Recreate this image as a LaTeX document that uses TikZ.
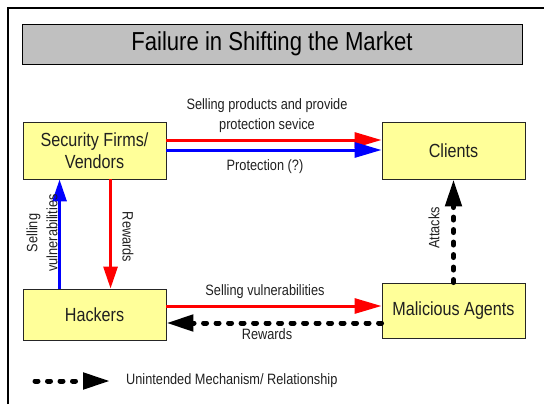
\documentclass[tikz,border=0pt]{standalone}
\usepackage{fontspec}
\setmainfont{Liberation Sans}[FakeStretch=0.85]
\usetikzlibrary{arrows.meta}
\definecolor{boxyellow}{HTML}{FFFF99}
\definecolor{titlegray}{HTML}{C0C0C0}
\definecolor{txt}{HTML}{202020}
\begin{document}
\begin{tikzpicture}[x=1pt,y=-1pt,
  entity/.style={draw=black!85, line width=0.9pt, fill=boxyellow, minimum width=143pt, inner sep=0pt, align=center, font=\fontsize{19}{22}\selectfont, text=txt},
  lbl/.style={font=\fontsize{15}{20}\selectfont, text=txt, inner sep=0pt, align=center},
  redarr/.style={draw=red, line width=3pt, -{Triangle[length=27pt,width=15pt]}},
  bluearr/.style={draw=blue, line width=3pt, -{Triangle[length=27pt,width=15pt]}},
  redv/.style={draw=red, line width=3pt, -{Triangle[length=22pt,width=14pt]}},
  bluev/.style={draw=blue, line width=3pt, -{Triangle[length=22pt,width=14pt]}},
  unint/.style={draw=black, line width=5pt, line cap=round, dash pattern=on 3pt off 9.5pt, -{Triangle[length=27pt,width=16pt]}}
]
\useasboundingbox (0,0) rectangle (544,407);
\draw[line width=1.2pt, black] (8,404) -- (8,8) -- (544,8);
\node[draw=black, line width=0.9pt, fill=titlegray, minimum width=500pt, minimum height=40pt, inner sep=0pt, font=\fontsize{26}{30}\selectfont] (title) at (272,44) {Failure in Shifting the Market};

\node[entity, minimum height=57pt] (sf) at (94.5,150.5) {Security Firms/\\Vendors};
\node[entity, minimum height=57pt] (cl) at (453.5,150.5) {Clients};
\node[entity, minimum height=51pt] (hk) at (94.5,314.5) {Hackers};
\node[entity, minimum height=55pt] (ma) at (453.5,310.5) {Malicious Agents};

% top arrows
\draw[redarr] ([yshift=10.5pt]sf.east) -- ([yshift=10.5pt]cl.west);
\draw[bluearr] ([yshift=0.5pt]sf.east) -- ([yshift=0.5pt]cl.west);
\node[lbl] (l1) at (267,116) {Selling products and provide\\protection sevice};
\node[lbl] (l2) at (265,167) {Protection (?)};

% vertical arrows
\draw[bluev] ([xshift=37pt]hk.north west) -- ([xshift=37pt]sf.south west);
\draw[redv] ([xshift=88pt]sf.south west) -- ([xshift=88pt]hk.north west);
\node[lbl, rotate=90] (l3) at (42,233) {Selling\\vulnerabilities};
\node[lbl, rotate=-90] (l4) at (128,237) {Rewards};

% bottom arrows
\coordinate (rs) at ([yshift=8.5pt]hk.east);
\draw[redarr] (rs) -- (rs -| ma.west);
\coordinate (bs) at ([yshift=-12.5pt]ma.west);
\draw[unint] (bs) -- (bs -| hk.east);
\node[lbl] (l5) at (265,292) {Selling vulnerabilities};
\node[lbl] (l6) at (267,334) {Rewards};

% attacks
\draw[unint] (ma.north) -- (cl.south);
\node[lbl, rotate=90] (l7) at (434,228) {Attacks};

% legend
\coordinate (lg1) at (35,381);
\coordinate (lg2) at (110,381);
\draw[unint] (lg1) -- (lg2);
\node[lbl, anchor=west] (l8) at (126,381) {Unintended Mechanism/ Relationship};
\end{tikzpicture}
\end{document}
